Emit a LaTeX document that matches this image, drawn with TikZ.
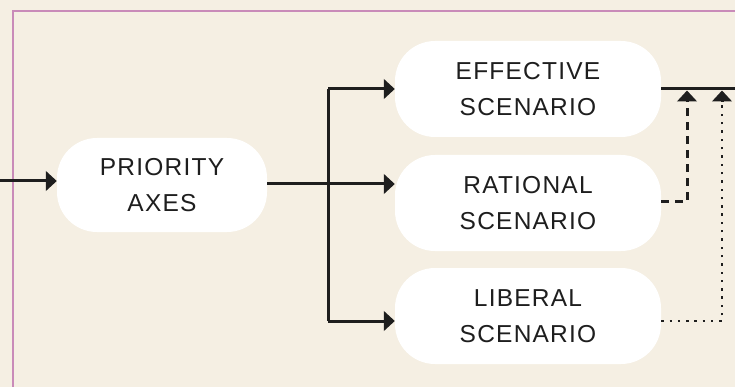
\documentclass[tikz,border=0pt]{standalone}
\usepackage{fontspec}
\setmainfont[LetterSpace=5]{Liberation Sans}
\usetikzlibrary{arrows.meta}
\definecolor{bgc}{HTML}{F5EFE3}
\definecolor{framec}{HTML}{C98BB9}
\definecolor{inkc}{HTML}{1E1E1E}
\definecolor{txtc}{HTML}{1E1E1E}
\tikzset{
  pill/.style={fill=white, rounded corners=40pt, inner sep=0pt, align=center,
    text=txtc, font=\fontsize{24.5}{36}\selectfont},
  conn/.style={draw=inkc, line width=3pt},
  tip/.style={-{Triangle[length=11pt,width=19.5pt]}},
  dashconn/.style={conn, dash pattern=on 8pt off 6pt},
  dotconn/.style={draw=inkc, line width=2.4pt, dash pattern=on 2.4pt off 5.9pt},
}
\begin{document}
\begin{tikzpicture}[x=1pt,y=-1pt]
\useasboundingbox (0,0) rectangle (735,387);
\fill[bgc] (0,0) rectangle (735,387);
\draw[framec, line width=2.6pt] (13,400) -- (13,11) -- (750,11);

\node[pill, minimum width=210pt, minimum height=94pt] (pri) at (162,185) {PRIORITY\\AXES};
\node[pill, minimum width=266pt, minimum height=96pt] (eff) at (528,89) {EFFECTIVE\\SCENARIO};
\node[pill, minimum width=266pt, minimum height=96pt] (rat) at (528,203) {RATIONAL\\SCENARIO};
\node[pill, minimum width=266pt, minimum height=96pt] (lib) at (528,316) {LIBERAL\\SCENARIO};

\coordinate (in) at (0,181);
\coordinate (trunktop) at (328,89);
\coordinate (trunkbot) at (328,321);
\coordinate (out) at (740,89);
\coordinate (dashx) at (687,0);
\coordinate (dotx) at (722,0);

% input
\draw[conn, tip] (in) -- (in -| pri.west);
% main branch
\draw[conn, tip] (pri.east |- 0,184) -- (rat.west |- 0,184);
\draw[conn] (trunktop) -- (trunkbot);
\draw[conn, tip] (trunktop) -- (trunktop -| eff.west);
\draw[conn, tip] (trunkbot) -- (trunkbot -| lib.west);
% output
\draw[conn] (eff.east) -- (out);
% dashed feedback
\draw[dashconn, tip] (rat.east |- 0,202) -- (dashx |- 0,202) -- (dashx |- 0,90.5);
% dotted feedback
\draw[dotconn] (lib.east |- 0,321) -- (dotx |- 0,321) -- (dotx |- 0,101);
\draw[conn, tip] (dotx |- 0,101) -- (dotx |- 0,90.5);
\end{tikzpicture}
\end{document}
